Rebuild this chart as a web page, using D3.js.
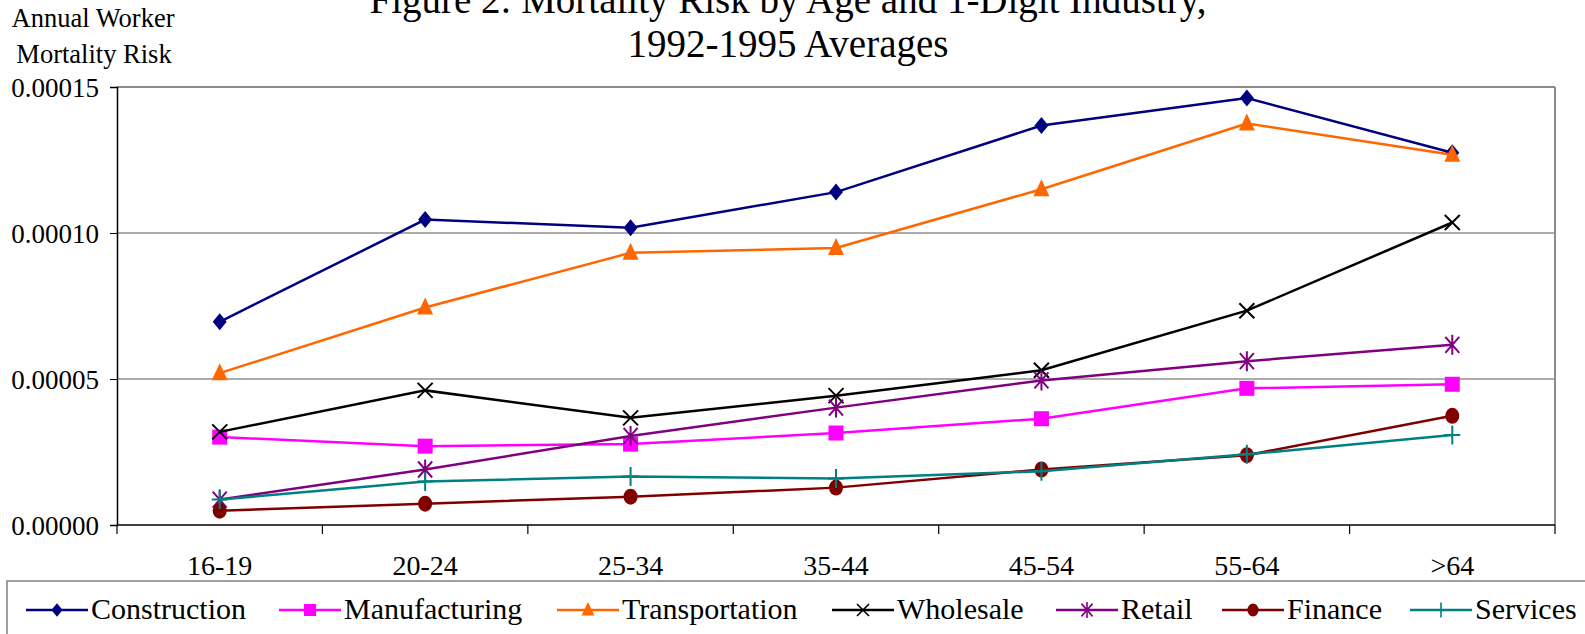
<!DOCTYPE html>
<html>
    <head>
        <meta charset="UTF-8">
        <script src="https://d3js.org/d3.v7.min.js"></script>
        <style>
            body { margin: 0; background: #fff; }
            svg text { font-family: "Liberation Serif", "Times New Roman", serif; fill: #000; }
            .line { fill: none; stroke-width: 2.5px; }
            .axis path, .axis line { stroke: #000; }
        </style>
    </head>
    <body>
        <svg width="1585" height="634"></svg>
        <script>
            // categories and series
            var ages = ['16-19', '20-24', '25-34', '35-44', '45-54', '55-64', '>64'];
            var construction   = [0.0000696, 0.0001046, 0.0001018, 0.0001140, 0.0001368, 0.0001462, 0.0001275];
            var manufacturing  = [0.0000301, 0.0000270, 0.0000277, 0.0000315, 0.0000364, 0.0000468, 0.0000482];
            var transportation = [0.0000520, 0.0000745, 0.0000932, 0.0000949, 0.0001150, 0.0001375, 0.0001268];
            var wholesale      = [0.0000319, 0.0000461, 0.0000367, 0.0000443, 0.0000530, 0.0000734, 0.0001036];
            var retail         = [0.0000087, 0.0000190, 0.0000305, 0.0000402, 0.0000495, 0.0000561, 0.0000617];
            var finance        = [0.0000049, 0.0000073, 0.0000097, 0.0000128, 0.0000190, 0.0000239, 0.0000374];
            var services       = [0.0000087, 0.0000149, 0.0000166, 0.0000159, 0.0000184, 0.0000242, 0.0000308];
            var yTicks = [0, 0.00005, 0.0001, 0.00015];

            var series = [
                { id: 'Construction',   values: construction,   color: '#000080', marker: 'diamond' },
                { id: 'Manufacturing',  values: manufacturing,  color: '#ff00ff', marker: 'square' },
                { id: 'Transportation', values: transportation, color: '#ff6600', marker: 'triangle' },
                { id: 'Wholesale',      values: wholesale,      color: '#000000', marker: 'x' },
                { id: 'Retail',         values: retail,         color: '#800080', marker: 'star' },
                { id: 'Finance',        values: finance,        color: '#800000', marker: 'circle' },
                { id: 'Services',       values: services,       color: '#008080', marker: 'plus' }
            ];

            // legend item left edges (layout only)
            var legendX = [26, 279, 557, 832, 1056, 1222, 1410];

            var svg = d3.select('svg'),
                margin = { top: 87, right: 30, bottom: 109, left: 117 },
                width = svg.attr('width') - margin.left - margin.right,
                height = svg.attr('height') - margin.top - margin.bottom,
                g = svg.append('g').attr('transform', 'translate(' + margin.left + ',' + margin.top + ')');

            var x = d3.scaleBand().domain(ages).range([0, width]),
                y = d3.scaleLinear().domain([0, 0.00015]).range([height, 0]);

            var line = d3.line()
                .x(function(d, i) { return x(ages[i]) + x.bandwidth() / 2; })
                .y(function(d) { return y(d); });

            // gridlines + plot frame
            g.selectAll('.grid')
                .data(yTicks.slice(1))
                .enter().append('line')
                .attr('x1', 0).attr('x2', width)
                .attr('y1', function(d) { return y(d); })
                .attr('y2', function(d) { return y(d); })
                .attr('stroke', function(d, i) { return i === 2 ? '#8c8c8c' : '#5a5a5a'; })
                .attr('stroke-width', function(d, i) { return i === 2 ? 2 : 1.2; });
            g.append('line')
                .attr('x1', width).attr('x2', width).attr('y1', 0).attr('y2', height)
                .attr('stroke', '#8c8c8c').attr('stroke-width', 2);

            // axes
            g.append('g')
                .attr('class', 'axis')
                .call(d3.axisLeft(y).tickValues(yTicks).tickFormat(d3.format('.5f')).tickSize(7).tickPadding(11))
                .call(function(s) { s.selectAll('text').style('font-size', '27px').attr('dy', '0.35em'); })
                .call(function(s) { s.select('.domain').attr('stroke-width', 1.5); });

            var xAxis = g.append('g')
                .attr('class', 'axis')
                .attr('transform', 'translate(0,' + height + ')');
            xAxis.append('line')
                .attr('x1', 0).attr('x2', width)
                .attr('stroke', '#000').attr('stroke-width', 1.5);
            xAxis.selectAll('.tick')
                .data(ages.concat(['end']))
                .enter().append('line')
                .attr('x1', function(d, i) { return i * x.step(); })
                .attr('x2', function(d, i) { return i * x.step(); })
                .attr('y1', 0).attr('y2', 9)
                .attr('stroke', '#000').attr('stroke-width', 1.2);
            xAxis.selectAll('.lbl')
                .data(ages)
                .enter().append('text')
                .attr('x', function(d) { return x(d) + x.bandwidth() / 2; })
                .attr('y', 50)
                .attr('text-anchor', 'middle')
                .style('font-size', '28px')
                .text(function(d) { return d; });

            // markers, k scales them down for the legend
            function marker(sel, type, color, k) {
                k = k || 1;
                var p = sel.append('g').attr('transform', 'scale(' + k + ')');
                if (type === 'diamond') {
                    p.append('path').attr('d', 'M0,-8.5L7,0L0,8.5L-7,0Z').attr('fill', color);
                } else if (type === 'square') {
                    p.append('rect').attr('x', -7.5).attr('y', -7.5).attr('width', 15).attr('height', 15).attr('fill', color);
                } else if (type === 'triangle') {
                    p.append('path').attr('d', 'M0,-10L8,7L-8,7Z').attr('fill', color);
                } else if (type === 'x') {
                    p.append('path').attr('d', 'M-7.5,-7.5L7.5,7.5M-7.5,7.5L7.5,-7.5').attr('stroke', color).attr('stroke-width', 2).attr('fill', 'none');
                } else if (type === 'star') {
                    p.append('path').attr('d', 'M-7,-8L7,8M-7,8L7,-8M0,-10L0,10').attr('stroke', color).attr('stroke-width', 2).attr('fill', 'none');
                } else if (type === 'circle') {
                    p.append('ellipse').attr('rx', 7).attr('ry', 8).attr('fill', color);
                } else if (type === 'plus') {
                    p.append('path').attr('d', 'M-8,0L8,0M0,-9.5L0,9.5').attr('stroke', color).attr('stroke-width', 2).attr('fill', 'none');
                }
            }

            var s = g.selectAll('.series')
                .data(series)
                .enter().append('g')
                .attr('class', 'series');

            s.append('path')
                .attr('class', 'line')
                .attr('d', function(d) { return line(d.values); })
                .style('stroke', function(d) { return d.color; });

            s.each(function(d) {
                var grp = d3.select(this);
                d.values.forEach(function(v, i) {
                    var m = grp.append('g')
                        .attr('transform', 'translate(' + (x(ages[i]) + x.bandwidth() / 2) + ',' + y(v) + ')');
                    marker(m, d.marker, d.color);
                });
            });

            // titles
            svg.append('text')
                .attr('x', 788).attr('y', 13)
                .attr('text-anchor', 'middle')
                .style('font-size', '39px')
                .text('Figure 2: Mortality Risk by Age and 1-Digit Industry,');
            svg.append('text')
                .attr('x', 788).attr('y', 57)
                .attr('text-anchor', 'middle')
                .style('font-size', '39px')
                .text('1992-1995 Averages');
            svg.append('text')
                .attr('x', 93).attr('y', 27)
                .attr('text-anchor', 'middle')
                .style('font-size', '26.5px')
                .text('Annual Worker');
            svg.append('text')
                .attr('x', 94).attr('y', 63)
                .attr('text-anchor', 'middle')
                .style('font-size', '26.5px')
                .text('Mortality Risk');

            // legend
            var legend = svg.append('g').attr('transform', 'translate(0,581)');
            legend.append('rect')
                .attr('x', 7).attr('y', 0).attr('width', 1600).attr('height', 80)
                .attr('fill', 'none').attr('stroke', '#808080').attr('stroke-width', 1.5);
            series.forEach(function(d, i) {
                var it = legend.append('g').attr('transform', 'translate(' + legendX[i] + ',29)');
                it.append('line').attr('x1', 0).attr('x2', 62).attr('stroke', d.color).attr('stroke-width', 2.5);
                marker(it.append('g').attr('transform', 'translate(31,0)'), d.marker, d.color, 0.8);
                it.append('text')
                    .attr('x', 65).attr('y', 9)
                    .style('font-size', '30px')
                    .text(d.id);
            });
        </script>
    </body>
</html>
